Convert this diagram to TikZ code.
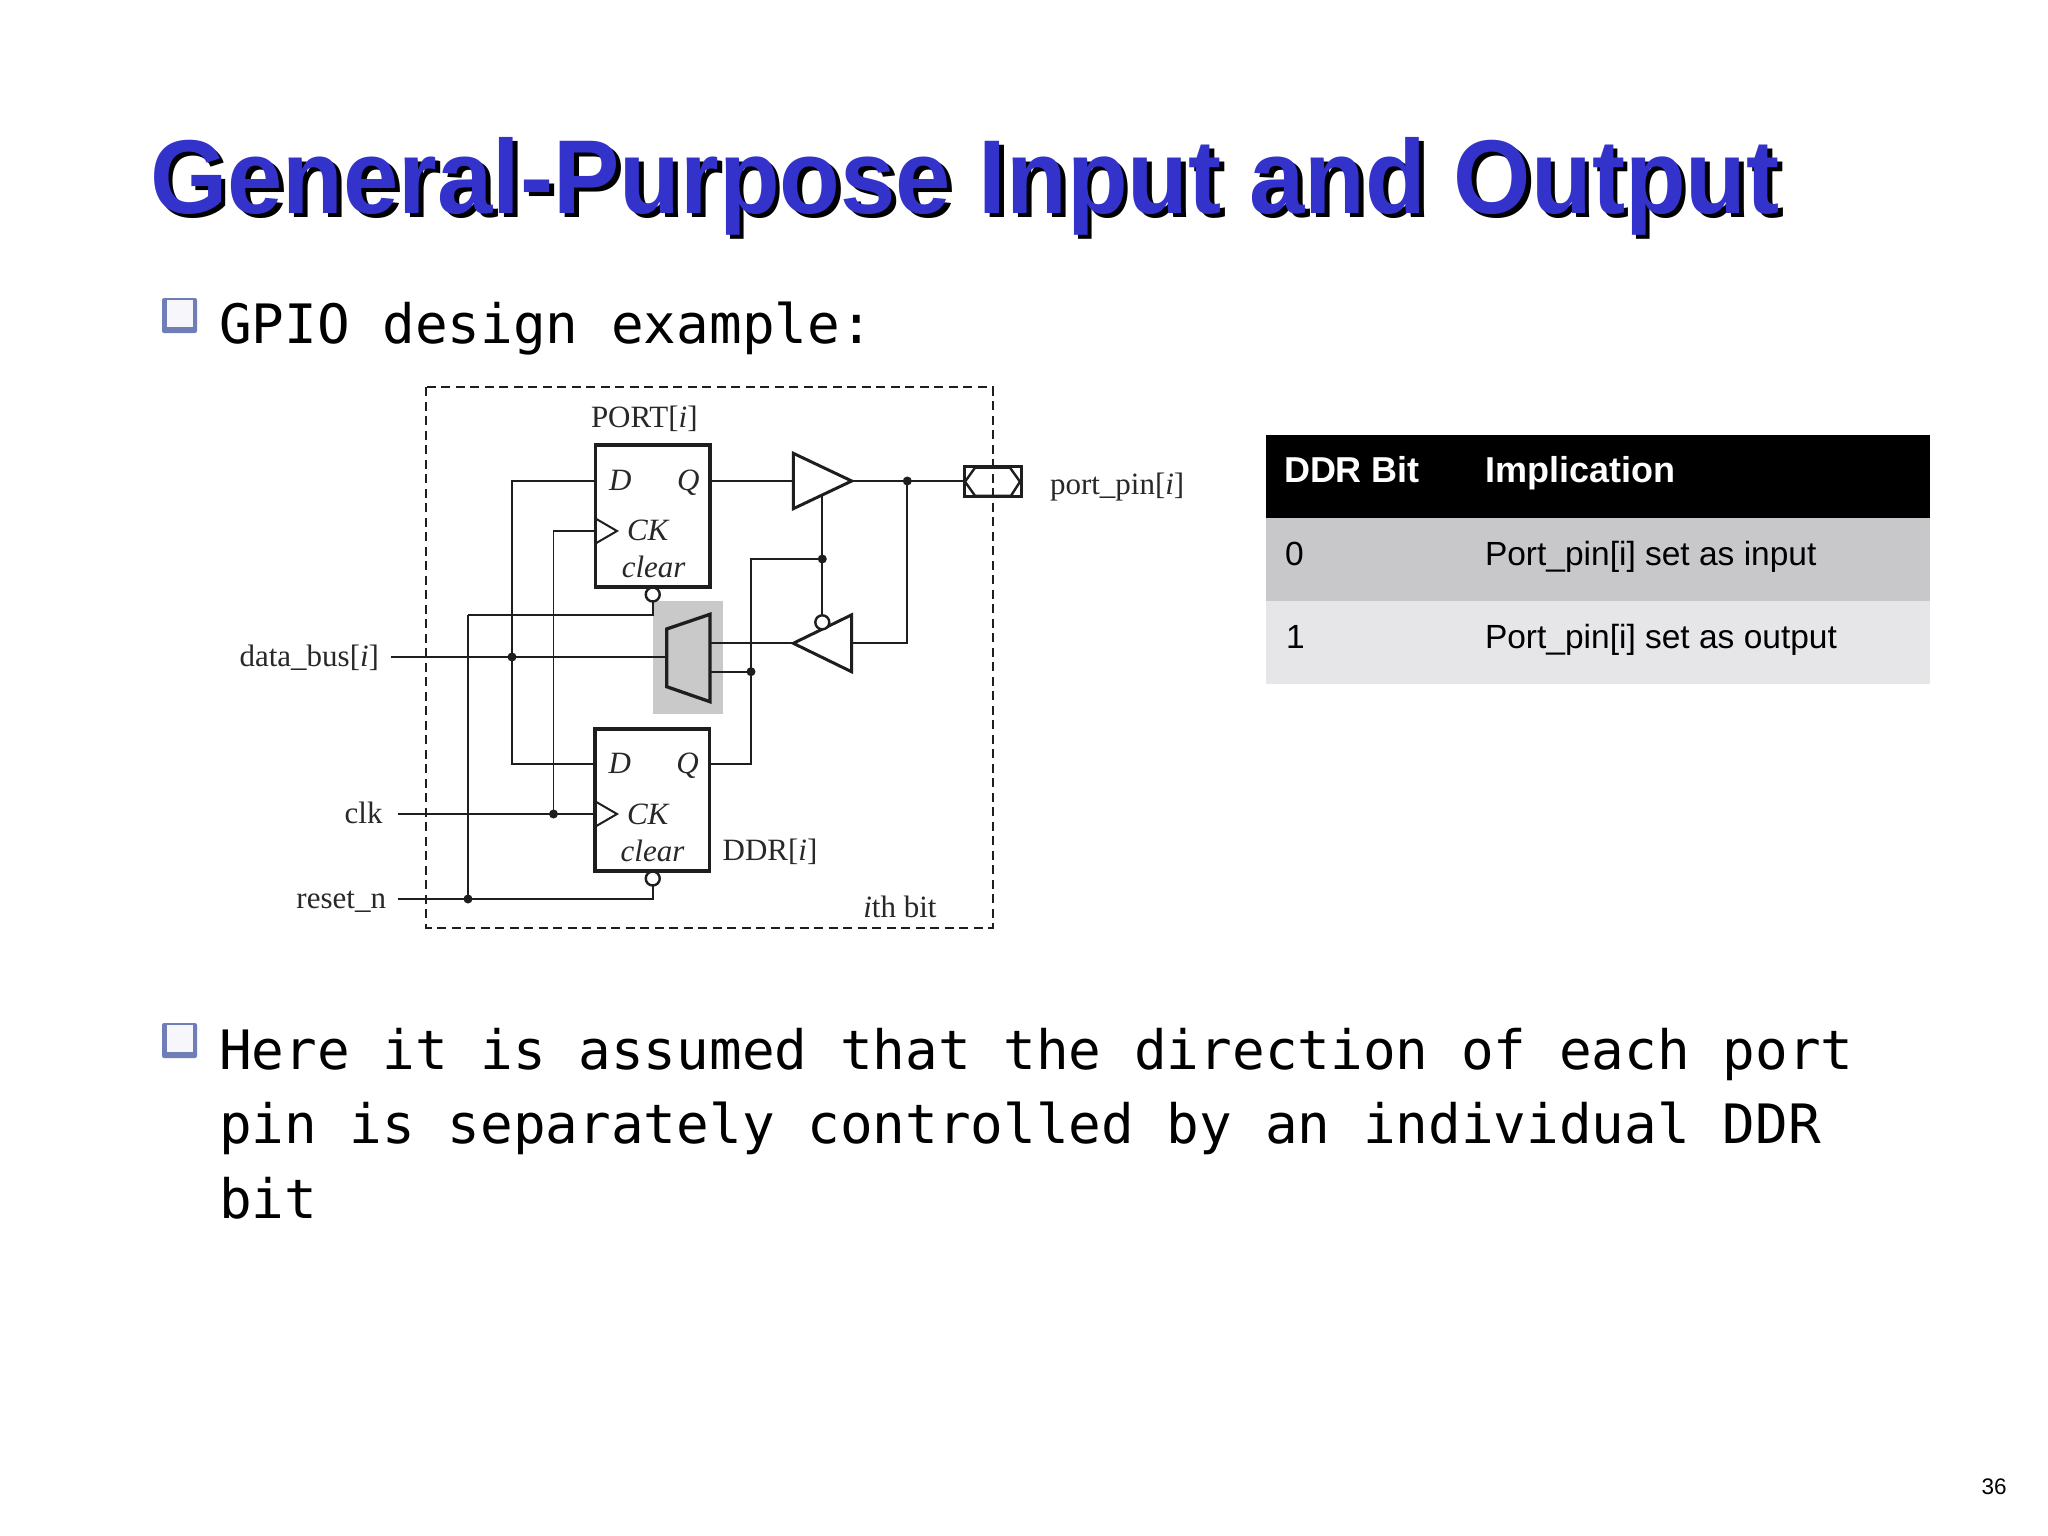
\documentclass[tikz,border=0pt]{standalone}
\usepackage{fontspec}
\usepackage{graphicx}
\setmainfont{Liberation Serif}
\newfontfamily\sansfam{Liberation Sans}
\newfontfamily\monofam{DejaVu Sans Mono}
\definecolor{titleblue}{RGB}{51,51,204}
\definecolor{cline}{RGB}{30,30,30}
\definecolor{ctext}{RGB}{40,40,40}
\definecolor{muxgray}{RGB}{201,201,201}
\definecolor{rowA}{RGB}{200,199,202}
\definecolor{rowB}{RGB}{230,229,232}
\definecolor{bulletblue}{RGB}{112,126,184}
\definecolor{bulletin}{RGB}{246,246,251}
\newcommand{\titletext}{General-Purpose Input and Output}
\begin{document}
\begin{tikzpicture}[x=1pt,y=-1pt,
  every node/.style={inner sep=0pt, outer sep=0pt},
  wire/.style={draw=cline, line width=1.8pt},
  ffbox/.style={draw=cline, line width=3.2pt, fill=white, minimum width=114.5pt, minimum height=142pt},
  gate/.style={draw=cline, line width=3pt, line join=miter},
  bubble/.style={circle, draw=cline, line width=2.4pt, fill=white, minimum size=14pt},
  cirtext/.style={text=ctext, font=\fontsize{31}{34}\selectfont},
  fftext/.style={text=ctext, font=\fontsize{31}{34}\selectfont\itshape},
  monotext/.style={font=\fontsize{54.3}{75}\selectfont\monofam},
  tabhead/.style={text=white, font=\fontsize{36}{40}\selectfont\sansfam\bfseries},
  tabtext/.style={text=black, font=\fontsize{33.5}{38}\selectfont\sansfam},
  dotnode/.style={circle, fill=cline, minimum size=9pt}
]
\useasboundingbox (0,0) rectangle (2048,1536);
\fill[white] (0,0) rectangle (2048,1536);

% ---------- title (with drop shadow, one node) ----------
\node[anchor=base west] (title) at (150,213)
  {\scalebox{0.947}[1]{\fontsize{105}{110}\selectfont\sansfam\bfseries
   \makebox[0pt][l]{\hspace{5pt}\raisebox{-4pt}{\color{black}\titletext}}\color{titleblue}\titletext}};

% ---------- bullets ----------
\begin{scope}[shift={(162,298)}]
  \fill[bulletblue, rounded corners=2pt] (0,0) rectangle (35,35);
  \fill[bulletin] (5,2) rectangle (31,29);
\end{scope}
\begin{scope}[shift={(162,1023)}]
  \fill[bulletblue, rounded corners=2pt] (0,0) rectangle (35,35);
  \fill[bulletin] (5,2) rectangle (31,29);
\end{scope}

\node[monotext, anchor=base west] (b1) at (219,343.3) {GPIO design example:};
\node[monotext, anchor=base west] (b2a) at (219,1069) {Here it is assumed that the direction of each port};
\node[monotext, anchor=base west] (b2b) at (219,1143.5) {pin is separately controlled by an individual DDR};
\node[monotext, anchor=base west] (b2c) at (219,1218.5) {bit};

% ---------- page number ----------
\node[anchor=base, font=\fontsize{22.5}{24}\selectfont\sansfam] (pnum) at (1994,1494) {36};

% ---------- table ----------
\fill[black] (1265.6,435) rectangle (1929.5,517.7);
\fill[rowA] (1265.6,517.7) rectangle (1929.5,601);
\fill[rowB] (1265.6,601) rectangle (1929.5,684.3);
\node[tabhead, anchor=base west] (h1) at (1284,482.5) {DDR Bit};
\node[tabhead, anchor=base west] (h2) at (1485,482.5) {Implication};
\node[tabtext, anchor=base west] (r1a) at (1285,565) {0};
\node[tabtext, anchor=base west] (r1b) at (1485,565) {Port\_pin[i] set as input};
\node[tabtext, anchor=base west] (r2a) at (1286,648.3) {1};
\node[tabtext, anchor=base west] (r2b) at (1485,648.3) {Port\_pin[i] set as output};

% ---------- circuit ----------
% dashed boundary
\draw[cline, line width=2pt, dash pattern=on 9pt off 5.5pt] (426.4,387.3) rectangle (992.8,927.5);

% gray mux background
\fill[muxgray] (652.7,600.7) rectangle (723.3,714);

% coordinates
\coordinate (pD) at (595.5,481);
\coordinate (pQ) at (710,481);
\coordinate (pCK) at (595.5,531);
\coordinate (dD) at (595.5,764.3);
\coordinate (dQ) at (710,764.3);
\coordinate (dCK) at (595.5,814);
\coordinate (dbstart) at (390.7,657);
\coordinate (clkstart) at (397.5,814);
\coordinate (rststart) at (397.5,899);
\coordinate (cR) at (468,615);
\coordinate (cE) at (751,559);
\coordinate (muxIn1) at (710,643.3);
\coordinate (muxSel) at (710,671.7);
\coordinate (muxOut) at (666.7,657);
\coordinate (obIn) at (793.3,481);
\coordinate (obTip) at (851.7,481);
\coordinate (obEn) at (822.3,495.6);
\coordinate (ibIn) at (851.7,643.3);
\coordinate (ibTip) at (793.3,643.3);
\coordinate (pinL) at (964,481);

% junction dots
\node[dotnode] (jD) at (512,657) {};
\node[dotnode] (jCK) at (553.5,814) {};
\node[dotnode] (jR) at (468,899) {};
\node[dotnode] (jS) at (751,671.7) {};
\node[dotnode] (jE) at (822.3,559) {};
\node[dotnode] (jO) at (907.3,481) {};

% wires
\draw[wire] (dbstart) -- (muxOut);
\draw[wire] (pD) -| (jD.center);
\draw[wire] (jD.center) |- (dD);
\draw[wire] (pCK) -| (jCK.center);
\draw[wire] (clkstart) -- (dCK);
\draw[wire] (rststart) -- (jR.center);
\draw[wire] (jR.center) -- (cR);
\draw[wire] (jR.center) -| (652.75,886);
\draw[wire] (cR) -| (652.75,601.5);
\draw[wire] (pQ) -- (obIn);
\draw[wire] (obTip) -- (jO.center) -- (pinL);
\draw[wire] (jO.center) |- (ibIn);
\draw[wire] (ibTip) -- (muxIn1);
\draw[wire] (muxSel) -- (jS.center);
\draw[wire] (dQ) -| (cE) -- (jE.center);
\draw[wire] (obEn) -- (jE.center) -- (822.3,615);

% flip-flops
\node[ffbox] (pff) at (652.75,516) {};
\node[ffbox] (dff) at (652.25,800) {};
\node[bubble] (pclr) at (652.75,594.5) {};
\node[bubble] (dclr) at (652.75,878.5) {};
\draw[draw=cline, line width=2pt] (595.5,518.5) -- (617,531) -- (595.5,543.5);
\draw[draw=cline, line width=2pt] (595.5,801.5) -- (617,814) -- (595.5,826.5);

\node[fftext, anchor=base west] (pDl) at (609,490) {D};
\node[fftext, anchor=base west] (pQl) at (677,490) {Q};
\node[fftext, anchor=base west] (pCKl) at (627,540) {CK};
\node[fftext, anchor=base west] (pclrl) at (621.8,577.3) {clear};
\node[fftext, anchor=base west] (dDl) at (608.6,773.3) {D};
\node[fftext, anchor=base west] (dQl) at (676.4,773.3) {Q};
\node[fftext, anchor=base west] (dCKl) at (627,824) {CK};
\node[fftext, anchor=base west] (dclrl) at (620.7,861.7) {clear};

% mux
\draw[gate, fill=muxgray, line width=3.3pt] (666.7,629) -- (710,614.3) -- (710,701.7) -- (666.7,686.7) -- cycle;

% output tri-state buffer
\draw[gate, fill=white] (793.3,453.3) -- (851.7,481) -- (793.3,508.7) -- cycle;
% input tri-state buffer
\draw[gate, fill=white] (851.7,614.8) -- (793.3,643.3) -- (851.7,671.8) -- cycle;
\node[bubble] (ibub) at (822.3,622.3) {};

% pin
\draw[draw=cline, line width=3pt] (964,466.7) rectangle (1021,496.7);
\draw[draw=cline, line width=2.4pt, line join=miter] (965,481.7) -- (975,467.7) -- (1010,467.7) -- (1020,481.7) -- (1011,495.7) -- (975,495.7) -- cycle;

% labels
\node[cirtext, anchor=base west] (portlbl) at (591,427) {PORT[\textit{i}]};
\node[cirtext, anchor=base west] (pinlbl) at (1050,494) {port\_pin[\textit{i}]};
\node[cirtext, anchor=base east] (dblbl) at (379,666.5) {data\_bus[\textit{i}]};
\node[cirtext, anchor=base east] (clklbl) at (382.5,823) {clk};
\node[cirtext, anchor=base east] (rstlbl) at (386,908) {reset\_n};
\node[cirtext, anchor=base west] (ddrlbl) at (722.7,860) {DDR[\textit{i}]};
\node[cirtext, anchor=base west] (bitlbl) at (863.3,917) {\textit{i}th bit};
\end{tikzpicture}
\end{document}
